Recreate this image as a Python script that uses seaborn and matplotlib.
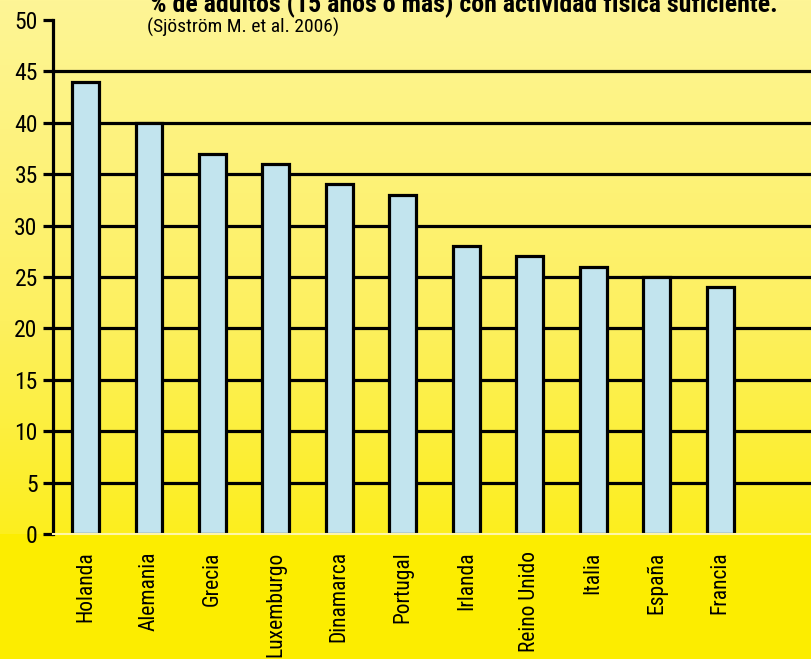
import numpy as np
import pandas as pd
import matplotlib
matplotlib.use("Agg")
import matplotlib.pyplot as plt
import seaborn as sns
from matplotlib import font_manager as fm

countries = ["Holanda", "Alemania", "Grecia", "Luxemburgo", "Dinamarca", "Portugal",
             "Irlanda", "Reino Unido", "Italia", "España", "Francia"]
values = [44, 40, 37, 36, 34, 33, 28, 27, 26, 25, 24]
yticks = [0, 5, 10, 15, 20, 25, 30, 35, 40, 45, 50]
title = "% de adultos (15 años o más) con actividad física suficiente."
subtitle = "(Sjöström M. et al. 2006)"

df = pd.DataFrame({"pais": countries, "valor": values})

sns.set_theme(style="white")


def has_font(name):
    try:
        fm.findfont(fm.FontProperties(family=name), fallback_to_default=False)
        return True
    except Exception:
        return False


narrow = None
for cand in ["Liberation Sans Narrow", "Arial Narrow", "DejaVu Sans Condensed",
             "Roboto Condensed", "Open Sans Condensed", "Noto Sans Condensed"]:
    if has_font(cand):
        narrow = cand
        break
if narrow is not None:
    fam = [narrow, "Liberation Sans", "DejaVu Sans"]
    k = 1.0
else:
    fam = ["Liberation Sans", "DejaVu Sans"]
    k = 0.84
plt.rcParams["font.family"] = fam

W, H = 811, 659
fig = plt.figure(figsize=(W / 100, H / 100), dpi=100)

# background gradient
bg = fig.add_axes([0, 0, 1, 1], zorder=0)
bg.set_axis_off()
rows = np.zeros((H, 1, 3))
top = np.array([254, 245, 150]) / 255
mid = np.array([253, 240, 95]) / 255
low = np.array([252, 238, 30]) / 255
bot = np.array([252, 237, 0]) / 255
y0 = 534
for i in range(H):
    if i < y0:
        t = i / y0
        if t < 0.6:
            c = top + (mid - top) * (t / 0.6)
        else:
            c = mid + (low - mid) * ((t - 0.6) / 0.4)
    else:
        c = bot
    rows[i, 0] = c
bg.imshow(rows, aspect="auto", extent=[0, 1, 0, 1], origin="upper")
bg.set_xlim(0, 1)
bg.set_ylim(0, 1)

ax = fig.add_axes([53 / W, (H - 534) / H, 1 - 53 / W, (534 - 20) / H], zorder=1)
ax.set_facecolor("none")

for yv in yticks[1:-1]:
    ax.axhline(yv, color="black", lw=2.3, zorder=1)

sns.barplot(data=df, x="pais", y="valor", color="#C2E4EE", width=0.42,
            edgecolor="black", linewidth=2.3, saturation=1, ax=ax, zorder=2)

ax.set_xlim(-0.51, 11.43)
ax.set_ylim(0, 50)
ax.set_yticks(yticks)
ax.set_yticklabels([str(v) for v in yticks], fontsize=17 * k, family=fam)
ax.set_xticks(range(len(countries)))
ax.set_xticklabels(countries, rotation=90, fontsize=15.5 * k, family=fam)
ax.set_xlabel("")
ax.set_ylabel("")

for s in ["top", "right"]:
    ax.spines[s].set_visible(False)
ax.spines["left"].set_color("black")
ax.spines["left"].set_linewidth(2.3)
ax.spines["bottom"].set_color("#FFF6A8")
ax.spines["bottom"].set_linewidth(1.5)

ax.tick_params(axis="y", which="both", left=True, length=7, width=2.3, color="black",
               pad=4, labelcolor="black")
ax.tick_params(axis="x", bottom=False, length=0, pad=12.5, labelcolor="black")

fig.text(150 / W, 1 - 12 / H, title, fontsize=18.6 * k, fontweight="bold", family=fam,
         ha="left", va="baseline", color="black")
fig.text(147 / W, 1 - 33 / H, subtitle, fontsize=14 * k, family=fam,
         ha="left", va="baseline", color="black")

fig.savefig("out.png", dpi=100)
